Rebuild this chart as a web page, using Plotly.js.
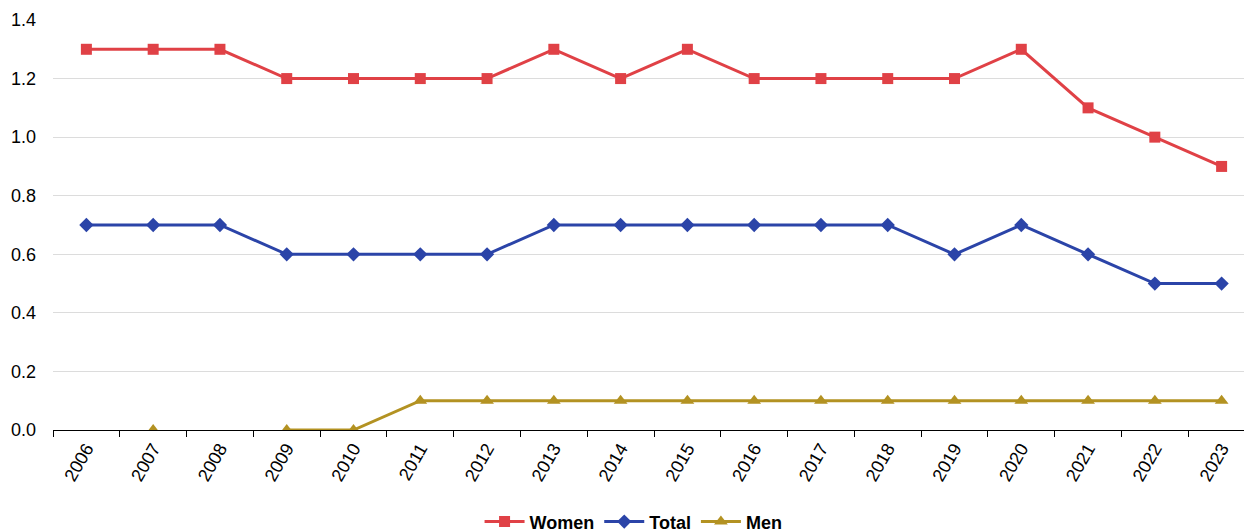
<!DOCTYPE html>
<html><head><meta charset="utf-8">
<script src="https://cdn.plot.ly/plotly-3.0.1.min.js"></script>
<style>html,body{margin:0;padding:0;overflow:hidden;background:#fff}</style>
</head><body><div id="chart"></div>
<script>
const years = ["2006","2007","2008","2009","2010","2011","2012","2013","2014","2015","2016","2017","2018","2019","2020","2021","2022","2023"];
const women = [1.3,1.3,1.3,1.2,1.2,1.2,1.2,1.3,1.2,1.3,1.2,1.2,1.2,1.2,1.3,1.1,1.0,0.9];
const total = [0.7,0.7,0.7,0.6,0.6,0.6,0.6,0.7,0.7,0.7,0.7,0.7,0.7,0.6,0.7,0.6,0.5,0.5];
const men = [null,0.0,null,0.0,0.0,0.1,0.1,0.1,0.1,0.1,0.1,0.1,0.1,0.1,0.1,0.1,0.1,0.1];

const traces = [
  {x: years, y: women, name: "Women", type: "scatter", mode: "lines+markers",
   line: {color: "#E04146", width: 3}, marker: {symbol: "square", size: 11, color: "#E04146"}},
  {x: years, y: total, name: "Total", type: "scatter", mode: "lines+markers",
   line: {color: "#2B44A8", width: 3}, marker: {symbol: "diamond", size: 11, color: "#2B44A8"}},
  {x: years, y: men, name: "Men", type: "scatter", mode: "lines+markers", connectgaps: false,
   line: {color: "#B39222", width: 3}, marker: {symbol: "triangle-up", size: 12, color: "#B39222"}}
];

const layout = {
  width: 1256, height: 550,
  margin: {l: 53, r: 1, t: 20, b: 120},
  paper_bgcolor: "#fff", plot_bgcolor: "#fff",
  font: {family: "Liberation Sans, Arial, sans-serif", size: 18, color: "#000"},
  showlegend: true,
  legend: {orientation: "h", x: 0.483, xanchor: "center", y: -0.224, yanchor: "middle",
           font: {size: 18, weight: "bold"}, itemwidth: 40, traceorder: "normal"},
  xaxis: {type: "category", tickson: "boundaries", ticks: "outside", ticklen: 6, tickcolor: "#000",
          showline: true, linecolor: "#000", linewidth: 1, showgrid: false, automargin: false,
          tickangle: -60, range: [-0.5, 17.5], fixedrange: true},
  yaxis: {range: [0, 1.4], dtick: 0.2, tick0: 0, tickformat: ".1f", showgrid: true,
          gridcolor: "#dcdcdc", gridwidth: 1, zeroline: false, showline: false, ticks: "",
          automargin: false, ticklabelstandoff: 16, fixedrange: true}
};
Plotly.newPlot("chart", traces, layout, {displayModeBar: false, staticPlot: true});
</script></body></html>
